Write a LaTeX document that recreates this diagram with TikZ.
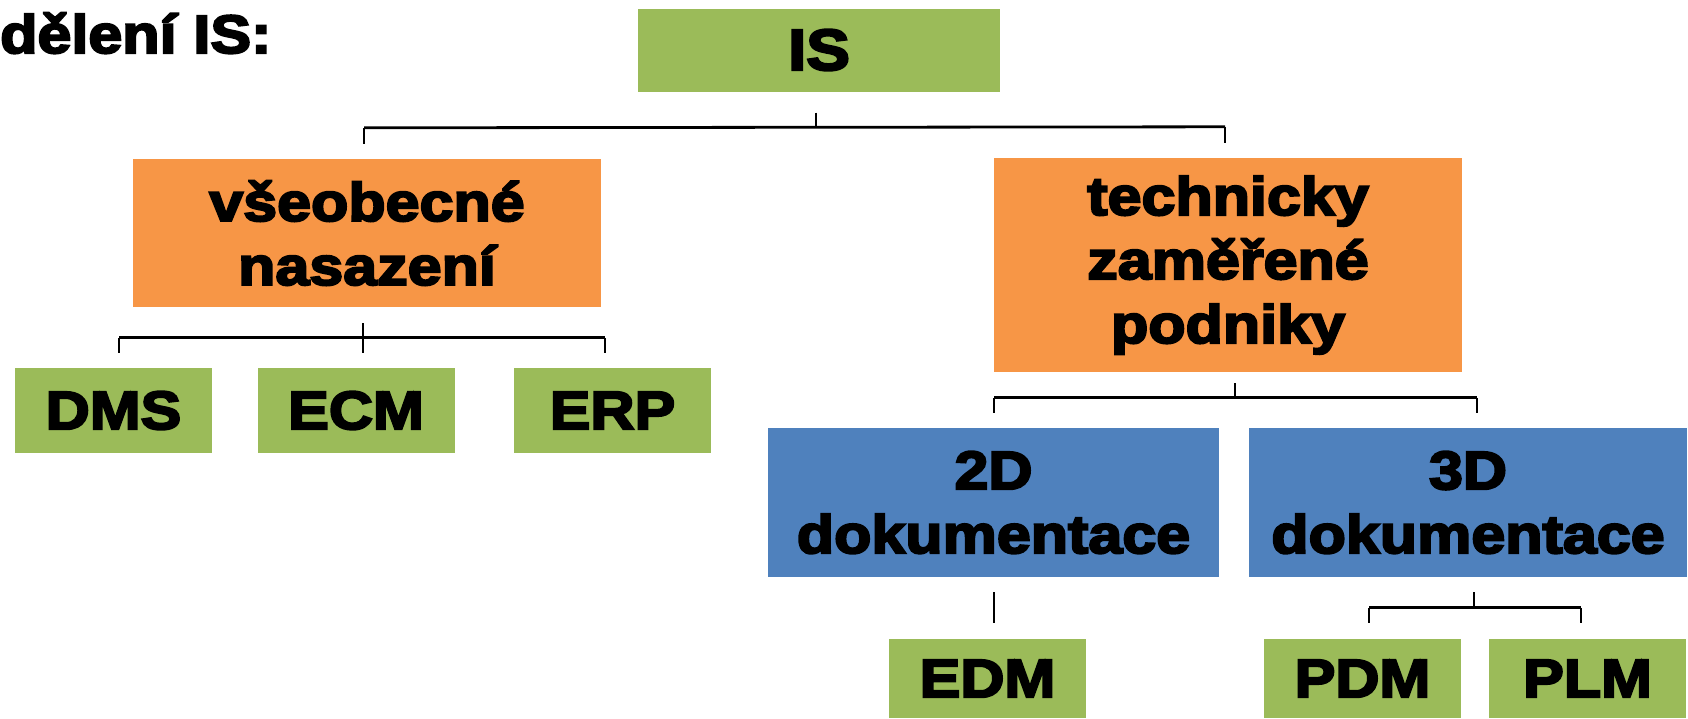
\documentclass[tikz,border=0pt]{standalone}
\usepackage{fontspec}
\setmainfont{Liberation Sans}
\newfontfamily\boxfont[FakeStretch=1.13,FakeBold=4]{Liberation Sans}
\usetikzlibrary{calc}
\definecolor{cgreen}{HTML}{9BBB59}
\definecolor{corange}{HTML}{F79646}
\definecolor{cblue}{HTML}{4F81BD}
\begin{document}
\begin{tikzpicture}[x=1pt,y=-1pt,
  box/.style={rectangle,inner sep=0pt,align=center,font=\boxfont\bfseries\fontsize{54}{64}\selectfont},
  gbox/.style={box,fill=cgreen,minimum width=197pt},
  obox/.style={box,fill=corange,minimum width=468pt},
  bbox/.style={box,fill=cblue,minimum height=149pt},
  conn/.style={draw=black,line width=2.8pt}]
\useasboundingbox (0,0) rectangle (1688,718);
\node[anchor=base west,inner sep=0pt,font=\boxfont\bfseries\fontsize{54}{54}\selectfont] (title) at (0,53) {dělení IS:};
\node[gbox,minimum width=362pt,minimum height=83pt,font=\boxfont\bfseries\fontsize{58}{64}\selectfont] (IS) at (819,50) {IS};
\node[obox,minimum height=148pt] (O1) at (367,233) {všeobecné\\nasazení};
\node[obox,minimum height=214pt] (O2) at (1228,265) {technicky\\zaměřené\\podniky};
\node[gbox,minimum height=85pt] (DMS) at (113.5,410.5) {DMS};
\node[gbox,minimum height=85pt] (ECM) at (356,410.5) {ECM};
\node[gbox,minimum height=85pt] (ERP) at (612.5,410.5) {ERP};
\node[bbox,minimum width=451pt] (D2) at (993.5,502.5) {2D\\dokumentace};
\node[bbox,minimum width=438pt] (D3) at (1468,502.5) {3D\\dokumentace};
\node[gbox,minimum height=79pt] (EDM) at (987.5,678.5) {EDM};
\node[gbox,minimum height=79pt] (PDM) at (1362.5,678.5) {PDM};
\node[gbox,minimum height=79pt] (PLM) at (1587.5,678.5) {PLM};
% IS -> O1, O2
\draw[conn] ($(IS.south)+(-3,21)$) -- ++(0,15);
\draw[conn] ($(O1.north)+(-3,-31)$) -- ($(O2.north)+(-3,-31)$);
\draw[conn] ($(O1.north)+(-3,-31)$) -- ++(0,16);
\draw[conn] ($(O2.north)+(-3,-31)$) -- ++(0,16);
% O1 -> DMS, ECM, ERP
\draw[conn] ($(O1.south)+(-4,16)$) -- ++(0,30);
\draw[conn] ($(DMS.north)+(5.5,-30)$) -- ($(ERP.north)+(-7.5,-30)$);
\draw[conn] ($(DMS.north)+(5.5,-30)$) -- ++(0,15);
\draw[conn] ($(ERP.north)+(-7.5,-30)$) -- ++(0,15);
% O2 -> D2, D3
\draw[conn] ($(O2.south)+(7,11)$) -- ++(0,15);
\draw[conn] ($(D2.north)+(0.5,-30)$) -- ($(D3.north)+(9,-30)$);
\draw[conn] ($(D2.north)+(0.5,-30)$) -- ++(0,15);
\draw[conn] ($(D3.north)+(9,-30)$) -- ++(0,15);
% D2 -> EDM
\draw[conn] ($(D2.south)+(0.5,15)$) -- ($(EDM.north)+(6.5,-16)$);
% D3 -> PDM, PLM
\draw[conn] ($(D3.south)+(6,15)$) -- ++(0,16);
\draw[conn] ($(PDM.north)+(6.5,-31)$) -- ($(PLM.north)+(-6.5,-31)$);
\draw[conn] ($(PDM.north)+(6.5,-31)$) -- ++(0,15);
\draw[conn] ($(PLM.north)+(-6.5,-31)$) -- ++(0,15);
\end{tikzpicture}
\end{document}
